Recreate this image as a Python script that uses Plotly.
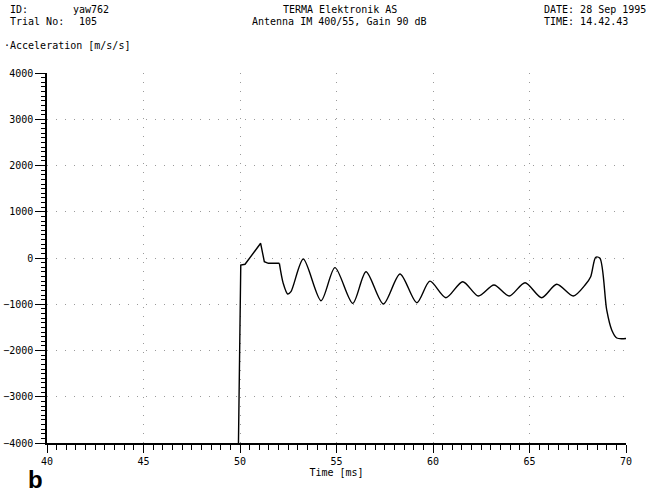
import plotly.graph_objects as go

# --- data ---
# initial (angular) part of the response
t_start = [49.92, 50.04, 50.26, 51.07, 51.26, 51.47, 52.04]
a_start = [-4000, -151, -136, 318, -80, -115, -115]
# oscillating (smooth) part
t_osc = [52.04, 52.24, 52.47, 52.64, 53.28, 54.20, 54.92, 55.84, 56.53, 57.43,
         58.29, 59.16, 59.84, 60.67, 61.54, 62.35, 63.16, 63.95, 64.77, 65.63,
         66.41, 67.27, 67.88, 68.17, 68.43, 68.65, 69.00, 69.26, 69.52, 70.00]
a_osc = [-115, -548, -778, -728, -22, -923, -209, -980, -296, -995,
         -346, -966, -500, -858, -512, -822, -584, -822, -534, -858,
         -569, -822, -584, -404, 15, -7, -1124, -1557, -1730, -1740]

x_ticks = [40, 45, 50, 55, 60, 65, 70]
y_ticks = [-4000, -3000, -2000, -1000, 0, 1000, 2000, 3000, 4000]

W, H = 651, 495
L, R, T, B = 47, 25, 73, 52
FONT = "DejaVu Sans Mono, Liberation Mono, monospace"

fig = go.Figure()
fig.add_trace(go.Scatter(x=t_start, y=a_start, mode="lines",
                         line=dict(color="black", width=1.4),
                         hoverinfo="skip", showlegend=False))
fig.add_trace(go.Scatter(x=t_osc, y=a_osc, mode="lines",
                         line=dict(color="black", width=1.4, shape="spline", smoothing=0.8),
                         hoverinfo="skip", showlegend=False))

grid = dict(showgrid=True, gridcolor="#9a9a9a", gridwidth=1, griddash="1px,8px")
tf = dict(family=FONT, size=10, color="black")
fig.update_xaxes(range=[40, 70], tickvals=x_ticks, ticks="outside", ticklen=8, tickwidth=1,
                 tickcolor="black", showline=True, linecolor="black", linewidth=1.5,
                 zeroline=False, tickfont=tf, automargin=False,
                 minor=dict(dtick=0.5, ticks="outside", ticklen=5, tickcolor="black", showgrid=False),
                 title=dict(text="Time [ms]", font=tf, standoff=0),
                 **grid)
fig.update_yaxes(range=[-4000, 4000], tickvals=y_ticks, ticks="outside", ticklen=10, tickwidth=1,
                 tickcolor="black", showline=True, linecolor="black", linewidth=1.5,
                 zeroline=False, tickfont=tf, automargin=False,
                 minor=dict(dtick=100, ticks="outside", ticklen=4, tickcolor="black", showgrid=False),
                 **grid)

def px(xp):
    return (xp - L) / (W - L - R)

def py(yp):
    return (H - B - yp) / (H - T - B)

notes = [
    ("ID:", 8, 9, "left"), ("yaw762", 71, 9, "left"),
    ("Trial No:", 8, 21, "left"), ("105", 77, 21, "left"),
    ("TERMA Elektronik AS", 340, 9, "center"),
    ("Antenna IM 400/55, Gain 90 dB", 340, 21, "center"),
    ("DATE: 28 Sep 1995", 542, 9, "left"),
    ("TIME: 14.42.43", 542, 21, "left"),
    ("·Acceleration [m/s/s]", 2, 45, "left"),
]
for txt, xx, yy, al in notes:
    fig.add_annotation(text=txt, x=px(xx), y=py(yy), xref="paper", yref="paper",
                       xanchor=al, yanchor="middle", showarrow=False, font=tf)
fig.add_annotation(text="<b>b</b>", x=px(35), y=py(494), xref="paper", yref="paper",
                   xanchor="center", yanchor="bottom", showarrow=False, borderpad=0,
                   font=dict(family="Liberation Sans, Arial", size=24, color="black"))

fig.update_layout(width=W, height=H, margin=dict(l=L, r=R, t=T, b=B),
                  paper_bgcolor="white", plot_bgcolor="white")
fig.write_html("out.html")
